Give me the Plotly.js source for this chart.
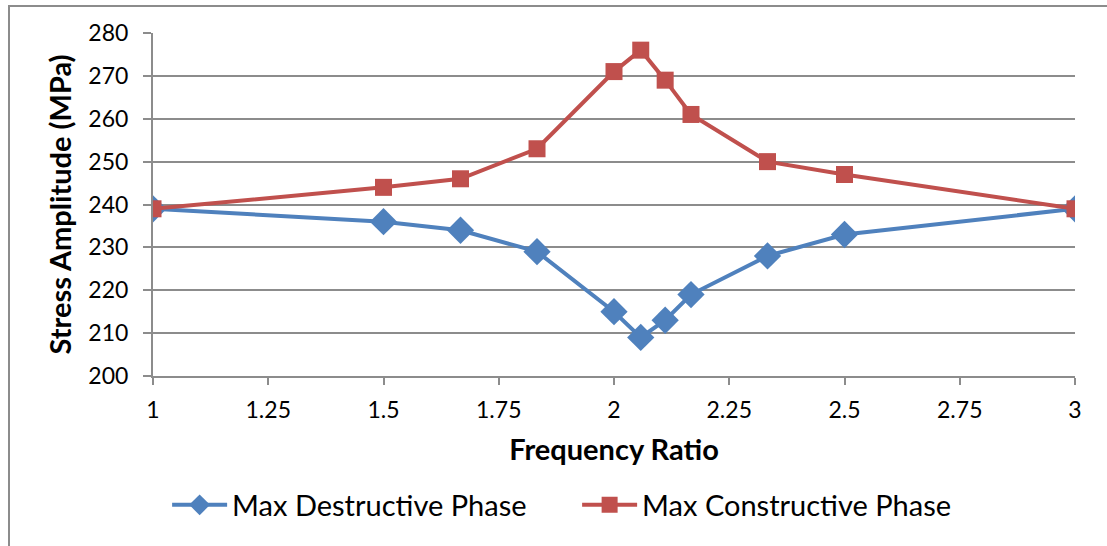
<!DOCTYPE html>
<html>
<head>
<meta charset="utf-8">
<script src="https://cdn.plot.ly/plotly-3.0.1.min.js"></script>
<style>
  html, body { margin: 0; padding: 0; background: #fff; }
  #chart { width: 1107px; height: 546px; }
  #frame { position: absolute; left: 8px; top: 5px; width: 1200px; height: 700px;
           border-top: 2px solid #8c8c8c; border-left: 2px solid #8c8c8c; pointer-events: none; }
</style>
</head>
<body>
<div id="chart"></div>
<div id="frame"></div>
<script>
const freqRatio = [1, 1.5, 1.667, 1.833, 2, 2.058, 2.111, 2.167, 2.333, 2.5, 3];
const destructive = [239, 236, 234, 229, 215, 209, 213, 219, 228, 233, 239];
const constructive = [239, 244, 246, 253, 271, 276, 269, 261, 250, 247, 239];
const seriesNames = ['Max Destructive Phase', 'Max Constructive Phase'];
const xTicks = [1, 1.25, 1.5, 1.75, 2, 2.25, 2.5, 2.75, 3];
const xTickText = ['1', '1.25', '1.5', '1.75', '2', '2.25', '2.5', '2.75', '3'];
const yTicks = [200, 210, 220, 230, 240, 250, 260, 270, 280];

const font = 'Lato, "Open Sans", sans-serif';

const traces = [
  {
    x: freqRatio, y: destructive, name: seriesNames[0], type: 'scatter', mode: 'lines+markers',
    line: { color: '#4F81BD', width: 4 },
    marker: { symbol: 'diamond', size: 21, color: '#4F81BD', line: { width: 0 } }
  },
  {
    x: freqRatio, y: constructive, name: seriesNames[1], type: 'scatter', mode: 'lines+markers',
    line: { color: '#C0504D', width: 4 },
    marker: { symbol: 'square', size: 17, color: '#C0504D', line: { width: 0 } }
  }
];

const layout = {
  width: 1107, height: 546,
  margin: { l: 153, r: 32, t: 33, b: 170 },
  paper_bgcolor: '#ffffff', plot_bgcolor: '#ffffff',
  font: { family: font, color: '#000', size: 20 },
  showlegend: true,
  legend: {
    orientation: 'h', x: 0.46, xanchor: 'center', y: -0.376, yanchor: 'middle',
    font: { family: font, size: 29, color: '#000' }, itemwidth: 55, tracegroupgap: 0,
    entrywidth: 340
  },
  xaxis: {
    range: [1, 3], tickvals: xTicks, ticktext: xTickText,
    showgrid: false, zeroline: false,
    showline: true, linecolor: '#8c8c8c', linewidth: 2,
    ticks: 'outside', ticklen: 7, tickwidth: 2, tickcolor: '#8c8c8c',
    ticklabelstandoff: 5,
    tickfont: { family: font, size: 23, color: '#000' },
    title: { text: 'Frequency Ratio', font: { family: font, size: 29, color: '#000', weight: 'bold' }, standoff: 18 }
  },
  yaxis: {
    range: [200, 280], tickvals: yTicks,
    showgrid: true, gridcolor: '#8c8c8c', gridwidth: 2, zeroline: false,
    showline: true, linecolor: '#8c8c8c', linewidth: 2,
    ticks: 'outside', ticklen: 8, tickwidth: 2, tickcolor: '#8c8c8c',
    ticklabelstandoff: 10,
    tickfont: { family: font, size: 23, color: '#000' },
    title: { text: 'Stress Amplitude (MPa)', font: { family: font, size: 29, color: '#000', weight: 'bold' }, standoff: 8 }
  }
};

Plotly.newPlot('chart', traces, layout, { displayModeBar: false, staticPlot: true });
</script>
</body>
</html>
